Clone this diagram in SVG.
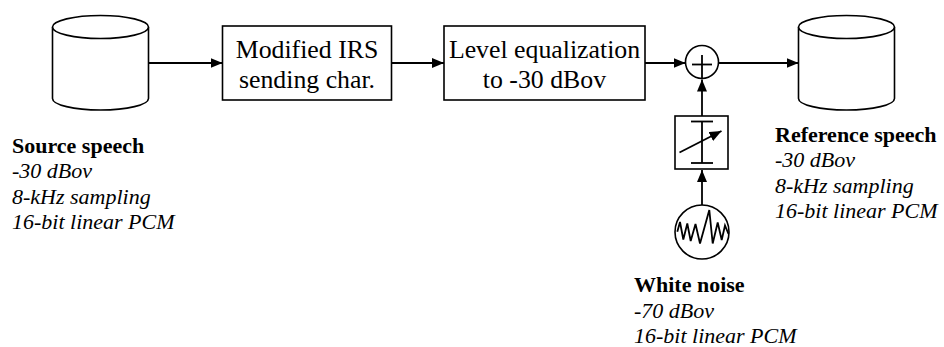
<svg xmlns="http://www.w3.org/2000/svg" width="944" height="347" viewBox="0 0 944 347">
<style>
.sh{fill:#fff;stroke:#000;stroke-width:1.6}
.ln{fill:none;stroke:#000;stroke-width:1.8}
.bx{font-size:25.8px;fill:#000;text-anchor:middle}
.lb{font-size:22px;fill:#000}
.b{font-weight:bold}
.i{font-style:italic}
</style>
<defs>
<marker id="ah" viewBox="0 0 12 10" refX="12" refY="5" markerWidth="12" markerHeight="10" markerUnits="userSpaceOnUse" orient="auto">
<path d="M0,0 L12,5 L0,10 Z" fill="#000"/>
</marker>
</defs>
<g id="connectors">
<line class="ln" x1="148.5" y1="63" x2="222.5" y2="63" marker-end="url(#ah)"/>
<line class="ln" x1="391.5" y1="63" x2="444" y2="63" marker-end="url(#ah)"/>
<line class="ln" x1="645" y1="63" x2="685.5" y2="63" marker-end="url(#ah)"/>
<line class="ln" x1="718.5" y1="63" x2="798.5" y2="63" marker-end="url(#ah)"/>
<line class="ln" x1="702" y1="116" x2="702" y2="79.5" marker-end="url(#ah)"/>
<line class="ln" x1="702" y1="205" x2="702" y2="170" marker-end="url(#ah)"/>
</g>
<g id="source-speech" font-family="serif">
<path class="sh" d="M52.5,27 V98.5 A48,11.5 0 0 0 148.5,98.5 V27"/>
<ellipse class="sh" cx="100.5" cy="27" rx="48" ry="11.5"/>
<text class="lb b" x="12" y="152.5">Source speech</text>
<text class="lb i" x="12" y="178">-30 dBov</text>
<text class="lb i" x="12" y="203.5">8-kHz sampling</text>
<text class="lb i" x="12" y="229">16-bit linear PCM</text>
</g>
<g id="irs" font-family="serif">
<rect class="sh" x="222.5" y="26" width="169" height="74"/>
<text class="bx" x="307" y="57.5">Modified IRS</text>
<text class="bx" x="307" y="87.5">sending char.</text>
</g>
<g id="level-eq" font-family="serif">
<rect class="sh" x="444" y="26" width="201" height="74"/>
<text class="bx" x="544.5" y="57.5">Level equalization</text>
<text class="bx" x="544.5" y="87.5">to -30 dBov</text>
</g>
<g id="sum">
<circle class="sh" cx="702" cy="62" r="16.5"/>
<line class="ln" x1="692" y1="64.5" x2="712" y2="64.5"/>
<line class="ln" x1="702" y1="55" x2="702" y2="78.5"/>
</g>
<g id="gain">
<rect class="sh" x="675" y="116" width="53" height="53"/>
<line class="ln" x1="702" y1="121.5" x2="702" y2="163"/>
<line class="ln" x1="691" y1="121.5" x2="713" y2="121.5"/>
<line class="ln" x1="691" y1="163" x2="713" y2="163"/>
<line class="ln" x1="679.5" y1="152.5" x2="721.5" y2="131" marker-end="url(#ah)"/>
</g>
<g id="white-noise" font-family="serif">
<circle class="sh" cx="702" cy="232" r="27"/>
<polyline class="ln" stroke-width="1.6" points="677.3,231.7 680,222 683.3,239.5 687.3,223.5 690.7,241 695.5,224 700,243.5 709.3,210 712.7,243.5 717.7,222.5 721.7,240 725,225.5 728.5,234"/>
<text class="lb b" x="634" y="292">White noise</text>
<text class="lb i" x="634" y="317.5">-70 dBov</text>
<text class="lb i" x="634" y="342.5">16-bit linear PCM</text>
</g>
<g id="reference-speech" font-family="serif">
<path class="sh" d="M798.5,27 V98.5 A48,11.5 0 0 0 894.5,98.5 V27"/>
<ellipse class="sh" cx="846.5" cy="27" rx="48" ry="11.5"/>
<text class="lb b" x="775" y="141.5">Reference speech</text>
<text class="lb i" x="775" y="167">-30 dBov</text>
<text class="lb i" x="775" y="192.5">8-kHz sampling</text>
<text class="lb i" x="775" y="218">16-bit linear PCM</text>
</g>
</svg>
